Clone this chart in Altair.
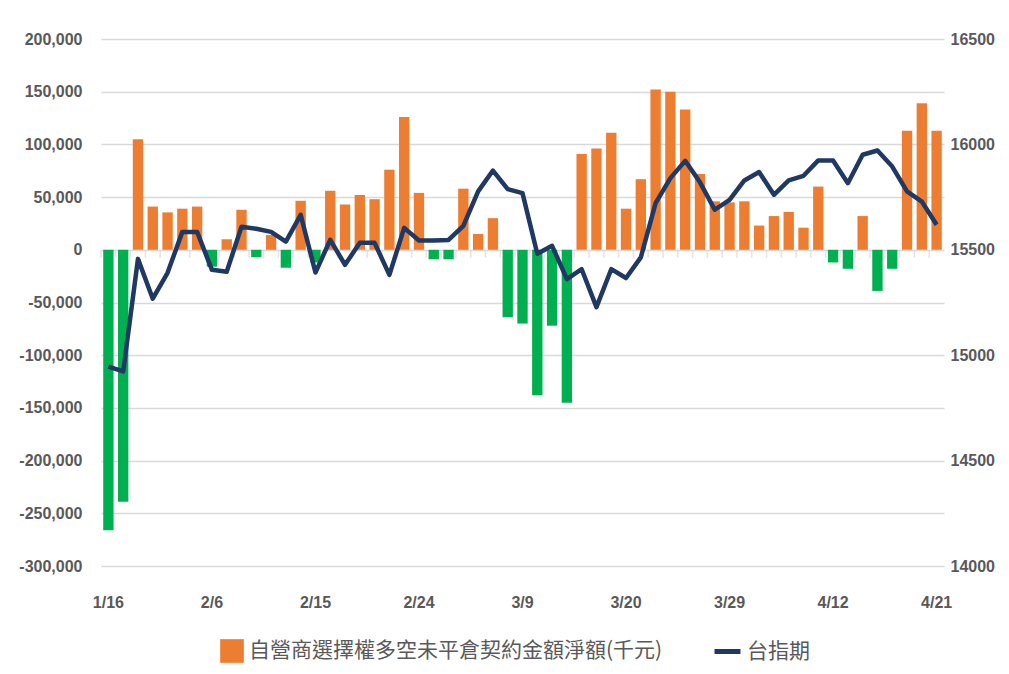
import altair as alt
import pandas as pd

# ---- data (2023 trading days) ----
dates = ["1/16", "1/17", "1/30", "1/31", "2/1", "2/2", "2/3", "2/6", "2/7", "2/8",
         "2/9", "2/10", "2/13", "2/14", "2/15", "2/16", "2/17", "2/20", "2/21", "2/22",
         "2/23", "2/24", "3/1", "3/2", "3/3", "3/6", "3/7", "3/8", "3/9", "3/10",
         "3/13", "3/14", "3/15", "3/16", "3/17", "3/20", "3/21", "3/22", "3/23", "3/24",
         "3/27", "3/28", "3/29", "3/30", "3/31", "4/6", "4/7", "4/10", "4/11", "4/12",
         "4/13", "4/14", "4/17", "4/18", "4/19", "4/20", "4/21"]

net_oi = [-266000, -239000, 105000, 41000, 35500, 39000, 41000, -16000, 10000, 38000,
          -7000, 14000, -17000, 46500, -12000, 56000, 43000, 52000, 48000, 76000,
          126000, 54000, -9000, -9000, 58000, 15000, 30000, -64000, -70000, -138000,
          -72000, -145000, 91000, 96000, 111000, 39000, 67000, 152000, 150000, 133000,
          72000, 46000, 45000, 46000, 23000, 32000, 36000, 21000, 60000, -12000,
          -18000, 32000, -39000, -18000, 113000, 139000, 113000]

taifex = [14946, 14923, 15457, 15268, 15391, 15585, 15585, 15405, 15396, 15609,
          15600, 15585, 15539, 15666, 15392, 15547, 15429, 15533, 15533, 15381,
          15604, 15544, 15544, 15547, 15614, 15777, 15876, 15788, 15769, 15481,
          15519, 15361, 15408, 15228, 15408, 15366, 15464, 15721, 15840, 15922,
          15820, 15690, 15737, 15829, 15869, 15761, 15829, 15851, 15924, 15924,
          15816, 15951, 15971, 15895, 15777, 15729, 15619]

label_dates = dates[::7]
left_ticks = list(range(-300000, 200001, 50000))
right_ticks = [14000, 14500, 15000, 15500, 16000, 16500]

SERIES_BAR = "自營商選擇權多空未平倉契約金額淨額(千元)"
SERIES_NEG = "負值"
SERIES_LINE = "台指期"

ORANGE = "#ED7D31"
GREEN = "#00B050"
NAVY = "#1F3864"
GRAY = "#595959"
GRID = "#D9D9D9"
FONT = "Liberation Sans"
CJK = "Noto Sans CJK TC"

df = pd.DataFrame({"date": dates, "net": net_oi, "fut": taifex})
df["sign"] = [SERIES_BAR if v >= 0 else SERIES_NEG for v in net_oi]
df["line"] = SERIES_LINE

W, H = 843, 527
N = len(dates)
step = W / N

x_enc = alt.X(
    "date:O", sort=dates,
    scale=alt.Scale(paddingInner=0.3, paddingOuter=0.15),
    axis=alt.Axis(values=label_dates, title=None, labelAngle=0, domain=False, ticks=False,
                  labelPadding=28, labelFontSize=16, labelFontWeight="bold",
                  labelColor=GRAY, labelFont=FONT, labelBaseline="top"),
)

bars = alt.Chart(df).mark_bar().encode(
    x=x_enc,
    y=alt.Y("net:Q",
            scale=alt.Scale(domain=[-300000, 200000], nice=False),
            axis=alt.Axis(values=left_ticks, title=None, domain=False, ticks=False,
                          grid=True, gridColor=GRID, gridWidth=1.5,
                          labelExpr="replace(format(datum.value, ','), '\u2212', '-')",
                          labelPadding=19, labelFontSize=16, labelFontWeight="bold",
                          labelColor=GRAY, labelFont=FONT)),
    fill=alt.Fill("sign:N",
                  scale=alt.Scale(domain=[SERIES_BAR, SERIES_NEG], range=[ORANGE, GREEN]),
                  legend=alt.Legend(values=[SERIES_BAR], title=None, orient="none",
                                    legendX=119, legendY=600, padding=0,
                                    symbolType="square", symbolSize=560,
                                    symbolStrokeWidth=0, labelOffset=5,
                                    labelFontSize=21, labelColor=GRAY,
                                    labelFont=CJK, labelLimit=600)),
)

zero_ticks = alt.Chart(df).mark_tick(
    orient="vertical", size=8, thickness=1.5, color=GRID,
    xOffset=-step / 2, yOffset=4,
).encode(x=x_enc, y=alt.datum(0))

left = alt.layer(bars, zero_ticks)

line = alt.Chart(df).mark_line(strokeWidth=4.5, strokeJoin="round").encode(
    x=x_enc,
    y=alt.Y("fut:Q",
            scale=alt.Scale(domain=[14000, 16500], nice=False, zero=False),
            axis=alt.Axis(orient="right", values=right_ticks, format="d", title=None,
                          grid=False, domain=False, ticks=False, labelPadding=6,
                          labelFontSize=16, labelFontWeight="bold",
                          labelColor=GRAY, labelFont=FONT)),
    stroke=alt.Stroke("line:N",
                      scale=alt.Scale(domain=[SERIES_LINE], range=[NAVY]),
                      legend=alt.Legend(title=None, orient="none",
                                        legendX=611, legendY=597, padding=0,
                                        symbolType="stroke", symbolSize=676,
                                        symbolStrokeWidth=5, labelOffset=4,
                                        labelFontSize=21, labelColor=GRAY,
                                        labelFont=CJK)),
)

chart = alt.layer(left, line).resolve_scale(y="independent").properties(
    width=W, height=H,
    autosize=alt.AutoSizeParams(type="none"),
    padding={"left": 93, "top": 31, "right": 57, "bottom": 100},
    background="white",
).configure_view(stroke=None)

chart.save("out.html", embed_options={"renderer": "svg", "actions": False})
